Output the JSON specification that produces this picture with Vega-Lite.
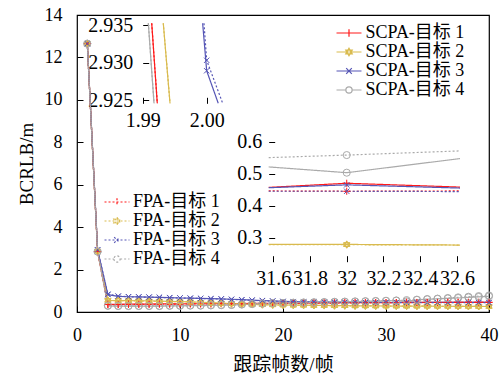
{
  "$schema": "https://vega.github.io/schema/vega-lite/v6.json",
  "width": 412,
  "height": 297,
  "autosize": {"type": "none"},
  "padding": {"left": 77, "top": 15, "right": 15, "bottom": 64},
  "config": {
    "view": {"stroke": "black", "strokeWidth": 1.2},
    "axis": {"grid": false, "domain": false, "labelFont": "Liberation Serif, Noto Sans CJK SC", "titleFont": "Liberation Serif, Noto Sans CJK SC", "labelColor": "black", "titleColor": "black", "tickColor": "black", "labelFontSize": 18, "titleFontSize": 19, "titleFontWeight": "normal", "labelFlush": false, "labelOverlap": false, "labelBound": false, "tickWidth": 1},
    "legend": {"labelFont": "Liberation Serif, Noto Sans CJK SC", "labelFontSize": 18, "labelColor": "black", "padding": 0}
  },
  "datasets": {
    "targets": [
      {"series": "SCPA-目标 1", "target": 1}, {"series": "SCPA-目标 2", "target": 2}, {"series": "SCPA-目标 3", "target": 3}, {"series": "SCPA-目标 4", "target": 4},
      {"series": "FPA-目标 1", "target": 1}, {"series": "FPA-目标 2", "target": 2}, {"series": "FPA-目标 3", "target": 3}, {"series": "FPA-目标 4", "target": 4}
    ],
    "main": [
      {"frame": 1, "SCPA-目标 1": 12.65, "SCPA-目标 2": 12.65, "SCPA-目标 3": 12.65, "SCPA-目标 4": 12.65, "FPA-目标 1": 12.65, "FPA-目标 2": 12.65, "FPA-目标 3": 12.65, "FPA-目标 4": 12.65},
      {"frame": 2, "SCPA-目标 1": 2.85, "SCPA-目标 2": 2.869, "SCPA-目标 3": 2.9289, "SCPA-目标 4": 2.845, "FPA-目标 1": 2.85, "FPA-目标 2": 2.869, "FPA-目标 3": 2.9303, "FPA-目标 4": 2.845},
      {"frame": 3, "SCPA-目标 1": 0.36, "SCPA-目标 2": 0.55, "SCPA-目标 3": 0.82, "SCPA-目标 4": 0.29, "FPA-目标 1": 0.35, "FPA-目标 2": 0.54, "FPA-目标 3": 0.84, "FPA-目标 4": 0.30},
      {"frame": 4, "SCPA-目标 1": 0.36, "SCPA-目标 2": 0.54, "SCPA-目标 3": 0.74, "SCPA-目标 4": 0.28, "FPA-目标 1": 0.35, "FPA-目标 2": 0.54, "FPA-目标 3": 0.75, "FPA-目标 4": 0.29},
      {"frame": 5, "SCPA-目标 1": 0.37, "SCPA-目标 2": 0.54, "SCPA-目标 3": 0.72, "SCPA-目标 4": 0.28, "FPA-目标 1": 0.36, "FPA-目标 2": 0.53, "FPA-目标 3": 0.72, "FPA-目标 4": 0.29},
      {"frame": 6, "SCPA-目标 1": 0.37, "SCPA-目标 2": 0.53, "SCPA-目标 3": 0.71, "SCPA-目标 4": 0.28, "FPA-目标 1": 0.36, "FPA-目标 2": 0.52, "FPA-目标 3": 0.71, "FPA-目标 4": 0.29},
      {"frame": 7, "SCPA-目标 1": 0.37, "SCPA-目标 2": 0.52, "SCPA-目标 3": 0.70, "SCPA-目标 4": 0.28, "FPA-目标 1": 0.36, "FPA-目标 2": 0.51, "FPA-目标 3": 0.70, "FPA-目标 4": 0.29},
      {"frame": 8, "SCPA-目标 1": 0.38, "SCPA-目标 2": 0.51, "SCPA-目标 3": 0.69, "SCPA-目标 4": 0.28, "FPA-目标 1": 0.37, "FPA-目标 2": 0.50, "FPA-目标 3": 0.69, "FPA-目标 4": 0.29},
      {"frame": 9, "SCPA-目标 1": 0.38, "SCPA-目标 2": 0.50, "SCPA-目标 3": 0.68, "SCPA-目标 4": 0.29, "FPA-目标 1": 0.37, "FPA-目标 2": 0.49, "FPA-目标 3": 0.67, "FPA-目标 4": 0.30},
      {"frame": 10, "SCPA-目标 1": 0.38, "SCPA-目标 2": 0.49, "SCPA-目标 3": 0.66, "SCPA-目标 4": 0.29, "FPA-目标 1": 0.37, "FPA-目标 2": 0.48, "FPA-目标 3": 0.66, "FPA-目标 4": 0.30},
      {"frame": 11, "SCPA-目标 1": 0.39, "SCPA-目标 2": 0.48, "SCPA-目标 3": 0.65, "SCPA-目标 4": 0.30, "FPA-目标 1": 0.38, "FPA-目标 2": 0.47, "FPA-目标 3": 0.65, "FPA-目标 4": 0.31},
      {"frame": 12, "SCPA-目标 1": 0.39, "SCPA-目标 2": 0.46, "SCPA-目标 3": 0.64, "SCPA-目标 4": 0.30, "FPA-目标 1": 0.38, "FPA-目标 2": 0.45, "FPA-目标 3": 0.64, "FPA-目标 4": 0.31},
      {"frame": 13, "SCPA-目标 1": 0.39, "SCPA-目标 2": 0.44, "SCPA-目标 3": 0.63, "SCPA-目标 4": 0.31, "FPA-目标 1": 0.38, "FPA-目标 2": 0.43, "FPA-目标 3": 0.62, "FPA-目标 4": 0.32},
      {"frame": 14, "SCPA-目标 1": 0.40, "SCPA-目标 2": 0.42, "SCPA-目标 3": 0.62, "SCPA-目标 4": 0.32, "FPA-目标 1": 0.39, "FPA-目标 2": 0.41, "FPA-目标 3": 0.61, "FPA-目标 4": 0.33},
      {"frame": 15, "SCPA-目标 1": 0.40, "SCPA-目标 2": 0.40, "SCPA-目标 3": 0.60, "SCPA-目标 4": 0.33, "FPA-目标 1": 0.39, "FPA-目标 2": 0.39, "FPA-目标 3": 0.59, "FPA-目标 4": 0.34},
      {"frame": 16, "SCPA-目标 1": 0.40, "SCPA-目标 2": 0.38, "SCPA-目标 3": 0.58, "SCPA-目标 4": 0.35, "FPA-目标 1": 0.39, "FPA-目标 2": 0.37, "FPA-目标 3": 0.57, "FPA-目标 4": 0.36},
      {"frame": 17, "SCPA-目标 1": 0.41, "SCPA-目标 2": 0.36, "SCPA-目标 3": 0.56, "SCPA-目标 4": 0.37, "FPA-目标 1": 0.40, "FPA-目标 2": 0.355, "FPA-目标 3": 0.55, "FPA-目标 4": 0.38},
      {"frame": 18, "SCPA-目标 1": 0.41, "SCPA-目标 2": 0.35, "SCPA-目标 3": 0.54, "SCPA-目标 4": 0.39, "FPA-目标 1": 0.40, "FPA-目标 2": 0.345, "FPA-目标 3": 0.53, "FPA-目标 4": 0.40},
      {"frame": 19, "SCPA-目标 1": 0.41, "SCPA-目标 2": 0.34, "SCPA-目标 3": 0.52, "SCPA-目标 4": 0.41, "FPA-目标 1": 0.40, "FPA-目标 2": 0.335, "FPA-目标 3": 0.51, "FPA-目标 4": 0.42},
      {"frame": 20, "SCPA-目标 1": 0.42, "SCPA-目标 2": 0.33, "SCPA-目标 3": 0.50, "SCPA-目标 4": 0.42, "FPA-目标 1": 0.41, "FPA-目标 2": 0.325, "FPA-目标 3": 0.49, "FPA-目标 4": 0.43},
      {"frame": 21, "SCPA-目标 1": 0.42, "SCPA-目标 2": 0.32, "SCPA-目标 3": 0.49, "SCPA-目标 4": 0.43, "FPA-目标 1": 0.41, "FPA-目标 2": 0.318, "FPA-目标 3": 0.48, "FPA-目标 4": 0.44},
      {"frame": 22, "SCPA-目标 1": 0.42, "SCPA-目标 2": 0.32, "SCPA-目标 3": 0.48, "SCPA-目标 4": 0.44, "FPA-目标 1": 0.41, "FPA-目标 2": 0.315, "FPA-目标 3": 0.475, "FPA-目标 4": 0.45},
      {"frame": 23, "SCPA-目标 1": 0.43, "SCPA-目标 2": 0.31, "SCPA-目标 3": 0.475, "SCPA-目标 4": 0.45, "FPA-目标 1": 0.42, "FPA-目标 2": 0.308, "FPA-目标 3": 0.47, "FPA-目标 4": 0.46},
      {"frame": 24, "SCPA-目标 1": 0.43, "SCPA-目标 2": 0.31, "SCPA-目标 3": 0.47, "SCPA-目标 4": 0.46, "FPA-目标 1": 0.42, "FPA-目标 2": 0.305, "FPA-目标 3": 0.465, "FPA-目标 4": 0.47},
      {"frame": 25, "SCPA-目标 1": 0.43, "SCPA-目标 2": 0.30, "SCPA-目标 3": 0.465, "SCPA-目标 4": 0.47, "FPA-目标 1": 0.42, "FPA-目标 2": 0.298, "FPA-目标 3": 0.46, "FPA-目标 4": 0.48},
      {"frame": 26, "SCPA-目标 1": 0.44, "SCPA-目标 2": 0.30, "SCPA-目标 3": 0.46, "SCPA-目标 4": 0.48, "FPA-目标 1": 0.43, "FPA-目标 2": 0.295, "FPA-目标 3": 0.455, "FPA-目标 4": 0.49},
      {"frame": 27, "SCPA-目标 1": 0.44, "SCPA-目标 2": 0.29, "SCPA-目标 3": 0.46, "SCPA-目标 4": 0.49, "FPA-目标 1": 0.43, "FPA-目标 2": 0.288, "FPA-目标 3": 0.455, "FPA-目标 4": 0.50},
      {"frame": 28, "SCPA-目标 1": 0.44, "SCPA-目标 2": 0.29, "SCPA-目标 3": 0.455, "SCPA-目标 4": 0.50, "FPA-目标 1": 0.43, "FPA-目标 2": 0.286, "FPA-目标 3": 0.45, "FPA-目标 4": 0.51},
      {"frame": 29, "SCPA-目标 1": 0.44, "SCPA-目标 2": 0.285, "SCPA-目标 3": 0.455, "SCPA-目标 4": 0.51, "FPA-目标 1": 0.44, "FPA-目标 2": 0.283, "FPA-目标 3": 0.45, "FPA-目标 4": 0.52},
      {"frame": 30, "SCPA-目标 1": 0.44, "SCPA-目标 2": 0.283, "SCPA-目标 3": 0.45, "SCPA-目标 4": 0.525, "FPA-目标 1": 0.44, "FPA-目标 2": 0.281, "FPA-目标 3": 0.448, "FPA-目标 4": 0.53},
      {"frame": 31, "SCPA-目标 1": 0.443, "SCPA-目标 2": 0.281, "SCPA-目标 3": 0.446, "SCPA-目标 4": 0.543, "FPA-目标 1": 0.446, "FPA-目标 2": 0.279, "FPA-目标 3": 0.447, "FPA-目标 4": 0.536},
      {"frame": 32, "SCPA-目标 1": 0.47, "SCPA-目标 2": 0.279, "SCPA-目标 3": 0.465, "SCPA-目标 4": 0.503, "FPA-目标 1": 0.445, "FPA-目标 2": 0.278, "FPA-目标 3": 0.445, "FPA-目标 4": 0.561},
      {"frame": 33, "SCPA-目标 1": 0.452, "SCPA-目标 2": 0.277, "SCPA-目标 3": 0.448, "SCPA-目标 4": 0.575, "FPA-目标 1": 0.446, "FPA-目标 2": 0.277, "FPA-目标 3": 0.444, "FPA-目标 4": 0.579},
      {"frame": 34, "SCPA-目标 1": 0.455, "SCPA-目标 2": 0.275, "SCPA-目标 3": 0.45, "SCPA-目标 4": 0.60, "FPA-目标 1": 0.447, "FPA-目标 2": 0.274, "FPA-目标 3": 0.443, "FPA-目标 4": 0.61},
      {"frame": 35, "SCPA-目标 1": 0.455, "SCPA-目标 2": 0.272, "SCPA-目标 3": 0.45, "SCPA-目标 4": 0.62, "FPA-目标 1": 0.448, "FPA-目标 2": 0.271, "FPA-目标 3": 0.442, "FPA-目标 4": 0.63},
      {"frame": 36, "SCPA-目标 1": 0.458, "SCPA-目标 2": 0.27, "SCPA-目标 3": 0.45, "SCPA-目标 4": 0.64, "FPA-目标 1": 0.449, "FPA-目标 2": 0.269, "FPA-目标 3": 0.442, "FPA-目标 4": 0.66},
      {"frame": 37, "SCPA-目标 1": 0.46, "SCPA-目标 2": 0.268, "SCPA-目标 3": 0.45, "SCPA-目标 4": 0.66, "FPA-目标 1": 0.45, "FPA-目标 2": 0.267, "FPA-目标 3": 0.441, "FPA-目标 4": 0.69},
      {"frame": 38, "SCPA-目标 1": 0.46, "SCPA-目标 2": 0.265, "SCPA-目标 3": 0.45, "SCPA-目标 4": 0.69, "FPA-目标 1": 0.45, "FPA-目标 2": 0.264, "FPA-目标 3": 0.441, "FPA-目标 4": 0.72},
      {"frame": 39, "SCPA-目标 1": 0.46, "SCPA-目标 2": 0.262, "SCPA-目标 3": 0.45, "SCPA-目标 4": 0.71, "FPA-目标 1": 0.45, "FPA-目标 2": 0.261, "FPA-目标 3": 0.44, "FPA-目标 4": 0.75},
      {"frame": 40, "SCPA-目标 1": 0.46, "SCPA-目标 2": 0.26, "SCPA-目标 3": 0.45, "SCPA-目标 4": 0.74, "FPA-目标 1": 0.45, "FPA-目标 2": 0.259, "FPA-目标 3": 0.44, "FPA-目标 4": 0.78}
    ],
    "inset1": [
      {"series": "SCPA-目标 1", "frame": 1.99141, "value": 2.93523},
      {"series": "SCPA-目标 1", "frame": 1.99228, "value": 2.92456},
      {"series": "SCPA-目标 2", "frame": 1.99322, "value": 2.93523},
      {"series": "SCPA-目标 2", "frame": 1.99427, "value": 2.92456},
      {"series": "SCPA-目标 3", "frame": 1.99937, "value": 2.93523},
      {"series": "SCPA-目标 3", "frame": 2.0, "value": 2.9289},
      {"series": "SCPA-目标 3", "frame": 2.00181, "value": 2.92456},
      {"series": "SCPA-目标 4", "frame": 1.99088, "value": 2.93523},
      {"series": "SCPA-目标 4", "frame": 1.99177, "value": 2.92456},
      {"series": "FPA-目标 1", "frame": 1.99141, "value": 2.93523},
      {"series": "FPA-目标 1", "frame": 1.99228, "value": 2.92456},
      {"series": "FPA-目标 2", "frame": 1.99322, "value": 2.93523},
      {"series": "FPA-目标 2", "frame": 1.99427, "value": 2.92456},
      {"series": "FPA-目标 3", "frame": 1.99958, "value": 2.93523},
      {"series": "FPA-目标 3", "frame": 2.0, "value": 2.9303},
      {"series": "FPA-目标 3", "frame": 2.0025, "value": 2.92456},
      {"series": "FPA-目标 4", "frame": 1.99088, "value": 2.93523},
      {"series": "FPA-目标 4", "frame": 1.99177, "value": 2.92456}
    ],
    "inset2": [
      {"series": "SCPA-目标 1", "frame": 31.575, "value": 0.457},
      {"series": "SCPA-目标 1", "frame": 32, "value": 0.47},
      {"series": "SCPA-目标 1", "frame": 32.617, "value": 0.458},
      {"series": "SCPA-目标 2", "frame": 31.575, "value": 0.279},
      {"series": "SCPA-目标 2", "frame": 32, "value": 0.279},
      {"series": "SCPA-目标 2", "frame": 32.617, "value": 0.277},
      {"series": "SCPA-目标 3", "frame": 31.575, "value": 0.456},
      {"series": "SCPA-目标 3", "frame": 32, "value": 0.465},
      {"series": "SCPA-目标 3", "frame": 32.617, "value": 0.455},
      {"series": "SCPA-目标 4", "frame": 31.575, "value": 0.521},
      {"series": "SCPA-目标 4", "frame": 32, "value": 0.503},
      {"series": "SCPA-目标 4", "frame": 32.617, "value": 0.547},
      {"series": "FPA-目标 1", "frame": 31.575, "value": 0.446},
      {"series": "FPA-目标 1", "frame": 32, "value": 0.445},
      {"series": "FPA-目标 1", "frame": 32.617, "value": 0.446},
      {"series": "FPA-目标 2", "frame": 31.575, "value": 0.278},
      {"series": "FPA-目标 2", "frame": 32, "value": 0.278},
      {"series": "FPA-目标 2", "frame": 32.617, "value": 0.277},
      {"series": "FPA-目标 3", "frame": 31.575, "value": 0.445},
      {"series": "FPA-目标 3", "frame": 32, "value": 0.445},
      {"series": "FPA-目标 3", "frame": 32.617, "value": 0.444},
      {"series": "FPA-目标 4", "frame": 31.575, "value": 0.55},
      {"series": "FPA-目标 4", "frame": 32, "value": 0.558},
      {"series": "FPA-目标 4", "frame": 32.617, "value": 0.571}
    ]
  },
  "layer": [
    {
      "data": {"name": "main"},
      "transform": [
        {"fold": ["SCPA-目标 1", "SCPA-目标 2", "SCPA-目标 3", "SCPA-目标 4"], "as": ["series", "value"]},
        {"lookup": "series", "from": {"data": {"name": "targets"}, "key": "series", "fields": ["target"]}}
      ],
      "encoding": {
        "x": {"field": "frame", "type": "quantitative", "scale": {"domain": [0, 40], "nice": false, "zero": false},
          "axis": {"title": "跟踪帧数/帧", "values": [0, 10, 20, 30, 40], "tickSize": -6, "labelPadding": 20, "titlePadding": 11}},
        "y": {"field": "value", "type": "quantitative", "scale": {"domain": [0, 14], "nice": false},
          "axis": {"title": "BCRLB/m", "values": [0, 2, 4, 6, 8, 10, 12, 14], "tickSize": -6, "labelPadding": 21, "titlePadding": 8}},
        "color": {"field": "series", "type": "nominal",
          "scale": {"domain": ["SCPA-目标 1", "SCPA-目标 2", "SCPA-目标 3", "SCPA-目标 4"], "range": ["#ff1a1a", "#d9bb4f", "#5555b5", "#aaaaaa"]},
          "legend": {"title": null, "orient": "none", "legendX": 263, "legendY": 9, "symbolSize": 156, "symbolStrokeWidth": 1.2, "labelOffset": 7.5, "rowPadding": 1, "padding": 0,
            "encode": {"symbols": {"update": {
              "shape": {"signal": "['M-2,0H2M0,-0.6V0.6','M-2,0H2M0,-0.6L0.52,0.3L-0.52,0.3ZM0,0.6L0.52,-0.3L-0.52,-0.3Z','M-2,0H2M-0.45,-0.45L0.45,0.45M-0.45,0.45L0.45,-0.45','M-2,0H-0.5M0.5,0H2M-0.5,0A0.5,0.5,0,1,0,0.5,0A0.5,0.5,0,1,0,-0.5,0'][toNumber(slice(datum.value,-1))-1]"},
              "fill": {"value": "transparent"}}}}}}
      },
      "layer": [
        {"mark": {"type": "line", "strokeWidth": 1.2}},
        {"mark": {"type": "point", "filled": false, "size": 50, "strokeWidth": 1, "opacity": 1},
          "encoding": {"shape": {"field": "target", "type": "nominal", "legend": null,
            "scale": {"domain": [1, 2, 3, 4], "range": ["M-1,0H1M0,-1V1", "M0,-1L0.866,0.5L-0.866,0.5ZM0,1L0.866,-0.5L-0.866,-0.5Z", "M-0.75,-0.75L0.75,0.75M-0.75,0.75L0.75,-0.75", "circle"]}}}}
      ]
    },
    {
      "data": {"name": "main"},
      "transform": [
        {"fold": ["FPA-目标 1", "FPA-目标 2", "FPA-目标 3", "FPA-目标 4"], "as": ["series", "value"]},
        {"lookup": "series", "from": {"data": {"name": "targets"}, "key": "series", "fields": ["target"]}}
      ],
      "encoding": {
        "x": {"field": "frame", "type": "quantitative", "scale": {"domain": [0, 40], "nice": false, "zero": false}, "axis": null},
        "y": {"field": "value", "type": "quantitative", "scale": {"domain": [0, 14], "nice": false}, "axis": null},
        "color": {"field": "series", "type": "nominal",
          "scale": {"domain": ["FPA-目标 1", "FPA-目标 2", "FPA-目标 3", "FPA-目标 4"], "range": ["#ff1a1a", "#d9bb4f", "#5555b5", "#aaaaaa"]},
          "legend": {"title": null, "orient": "none", "legendX": 31, "legendY": 178, "symbolSize": 156, "symbolStrokeWidth": 1.2, "symbolDash": [2, 2], "labelOffset": 7, "rowPadding": 1, "padding": 0,
            "encode": {"symbols": {"update": {
              "shape": {"signal": "['M-2,0H2M0,-0.6V0.6','M-2,0H2M0,-0.6L0.52,0.3L-0.52,0.3ZM0,0.6L0.52,-0.3L-0.52,-0.3Z','M-2,0H2M-0.45,-0.45L0.45,0.45M-0.45,0.45L0.45,-0.45','M-2,0H-0.5M0.5,0H2M-0.5,0A0.5,0.5,0,1,0,0.5,0A0.5,0.5,0,1,0,-0.5,0'][toNumber(slice(datum.value,-1))-1]"},
              "fill": {"value": "transparent"}}}}}}
      },
      "layer": [
        {"mark": {"type": "line", "strokeWidth": 1.2, "strokeDash": [2, 2]}},
        {"mark": {"type": "point", "filled": false, "size": 50, "strokeWidth": 1, "opacity": 1},
          "encoding": {"shape": {"field": "target", "type": "nominal", "legend": null,
            "scale": {"domain": [1, 2, 3, 4], "range": ["M-1,0H1M0,-1V1", "M0,-1L0.866,0.5L-0.866,0.5ZM0,1L0.866,-0.5L-0.866,-0.5Z", "M-0.75,-0.75L0.75,0.75M-0.75,0.75L0.75,-0.75", "circle"]}}}}
      ]
    },
    {
      "data": {"name": "inset1"},
      "encoding": {
        "x": {"field": "frame", "type": "quantitative", "scale": {"domain": [1.99, 2.0051], "range": [65.7, 162.3], "nice": false, "zero": false},
          "axis": {"orient": "bottom", "offset": -208.7, "title": null, "values": [1.99, 2.0], "format": ".2f", "tickSize": -6, "labelPadding": 13, "labelFontSize": 20}},
        "y": {"field": "value", "type": "quantitative", "scale": {"domain": [2.92456, 2.93523], "range": [88.3, 8.3], "nice": false, "zero": false},
          "axis": {"orient": "left", "offset": -65.7, "title": null, "values": [2.925, 2.93, 2.935], "format": ".3f", "tickSize": -6, "labelPadding": 16, "labelFontSize": 20}},
        "color": {"field": "series", "type": "nominal", "legend": null, "scale": {"domain": ["SCPA-目标 1", "SCPA-目标 2", "SCPA-目标 3", "SCPA-目标 4", "FPA-目标 1", "FPA-目标 2", "FPA-目标 3", "FPA-目标 4"], "range": ["#ff1a1a", "#d9bb4f", "#5555b5", "#aaaaaa", "#ff1a1a", "#d9bb4f", "#5555b5", "#aaaaaa"]}}
      },
      "layer": [
        {"data": {"values": [{}]}, "mark": {"type": "rect", "fill": "white", "stroke": "black", "strokeWidth": 1.2},
          "encoding": {"x": {"datum": 1.99, "type": "quantitative"}, "x2": {"datum": 2.0051}, "y": {"datum": 2.92456, "type": "quantitative"}, "y2": {"datum": 2.93523}, "color": {"value": "white"}}},
        {"mark": {"type": "line", "strokeWidth": 1.2},
          "encoding": {"strokeDash": {"field": "series", "type": "nominal", "legend": null, "scale": {"domain": ["SCPA-目标 1", "SCPA-目标 2", "SCPA-目标 3", "SCPA-目标 4", "FPA-目标 1", "FPA-目标 2", "FPA-目标 3", "FPA-目标 4"], "range": [[1, 0], [1, 0], [1, 0], [1, 0], [2, 2], [2, 2], [2, 2], [2, 2]]}}}},
        {"transform": [{"filter": "datum.frame == 2"}, {"lookup": "series", "from": {"data": {"name": "targets"}, "key": "series", "fields": ["target"]}}],
          "mark": {"type": "point", "filled": false, "size": 50, "strokeWidth": 1, "opacity": 1},
          "encoding": {"shape": {"field": "target", "type": "nominal", "legend": null, "scale": {"domain": [1, 2, 3, 4], "range": ["M-1,0H1M0,-1V1", "M0,-1L0.866,0.5L-0.866,0.5ZM0,1L0.866,-0.5L-0.866,-0.5Z", "M-0.75,-0.75L0.75,0.75M-0.75,0.75L0.75,-0.75", "circle"]}}}}
      ]
    },
    {
      "data": {"name": "inset2"},
      "encoding": {
        "x": {"field": "frame", "type": "quantitative", "scale": {"domain": [31.575, 32.617], "range": [191.7, 383], "nice": false, "zero": false},
          "axis": {"orient": "bottom", "offset": -50.3, "title": null, "values": [31.6, 31.8, 32, 32.2, 32.4, 32.6], "format": "~g", "tickSize": -6, "labelPadding": 13, "labelFontSize": 20}},
        "y": {"field": "value", "type": "quantitative", "scale": {"domain": [0.225, 0.626], "range": [246.7, 118.3], "nice": false, "zero": false},
          "axis": {"orient": "left", "offset": -191.7, "title": null, "values": [0.3, 0.4, 0.5, 0.6], "format": ".1f", "tickSize": -6, "labelPadding": 13, "labelFontSize": 20}},
        "color": {"field": "series", "type": "nominal", "legend": null, "scale": {"domain": ["SCPA-目标 1", "SCPA-目标 2", "SCPA-目标 3", "SCPA-目标 4", "FPA-目标 1", "FPA-目标 2", "FPA-目标 3", "FPA-目标 4"], "range": ["#ff1a1a", "#d9bb4f", "#5555b5", "#aaaaaa", "#ff1a1a", "#d9bb4f", "#5555b5", "#aaaaaa"]}}
      },
      "layer": [
        {"data": {"values": [{}]}, "mark": {"type": "rect", "fill": "white", "stroke": "black", "strokeWidth": 1.2},
          "encoding": {"x": {"datum": 31.575, "type": "quantitative"}, "x2": {"datum": 32.617}, "y": {"datum": 0.225, "type": "quantitative"}, "y2": {"datum": 0.626}, "color": {"value": "white"}}},
        {"mark": {"type": "line", "strokeWidth": 1.2},
          "encoding": {"strokeDash": {"field": "series", "type": "nominal", "legend": null, "scale": {"domain": ["SCPA-目标 1", "SCPA-目标 2", "SCPA-目标 3", "SCPA-目标 4", "FPA-目标 1", "FPA-目标 2", "FPA-目标 3", "FPA-目标 4"], "range": [[1, 0], [1, 0], [1, 0], [1, 0], [2, 2], [2, 2], [2, 2], [2, 2]]}}}},
        {"transform": [{"filter": "datum.frame == 32"}, {"lookup": "series", "from": {"data": {"name": "targets"}, "key": "series", "fields": ["target"]}}],
          "mark": {"type": "point", "filled": false, "size": 50, "strokeWidth": 1, "opacity": 1},
          "encoding": {"shape": {"field": "target", "type": "nominal", "legend": null, "scale": {"domain": [1, 2, 3, 4], "range": ["M-1,0H1M0,-1V1", "M0,-1L0.866,0.5L-0.866,0.5ZM0,1L0.866,-0.5L-0.866,-0.5Z", "M-0.75,-0.75L0.75,0.75M-0.75,0.75L0.75,-0.75", "circle"]}}}}
      ]
    }
  ],
  "resolve": {"scale": {"x": "independent", "y": "independent", "color": "independent", "shape": "independent"}}
}
